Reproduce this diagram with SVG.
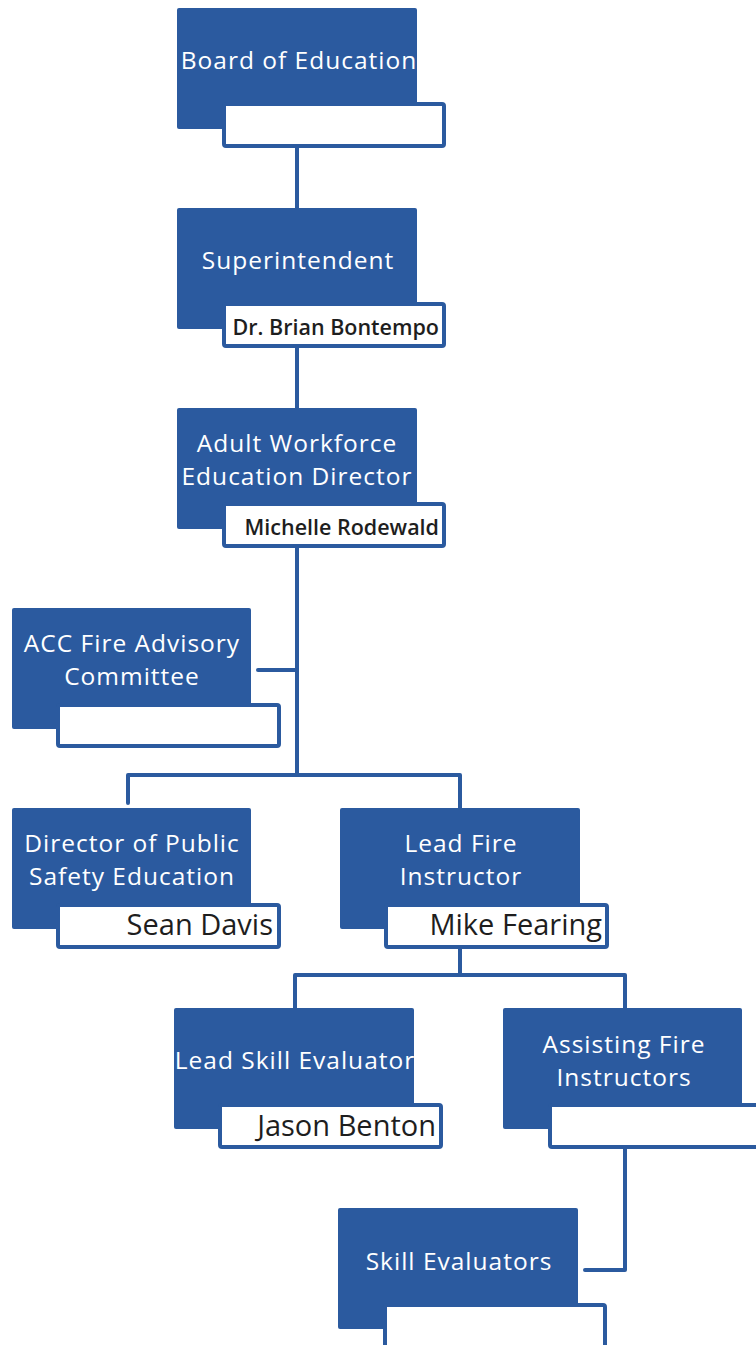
<svg xmlns="http://www.w3.org/2000/svg" width="756" height="1345" viewBox="0 0 756 1345">
  <style>
    .box { fill: #2B5A9F; }
    .tag { fill: #FFFFFF; stroke: #2B5A9F; stroke-width: 4; }
    .title { font-family: "Open Sans", "Noto Sans", sans-serif; font-size: 24.5px; letter-spacing: 1px; fill: #FFFFFF; text-anchor: middle; }
    .name { font-family: "Open Sans", "Noto Sans", sans-serif; fill: #1E1E1E; text-anchor: end; }
    .small { font-size: 21.5px; font-weight: 600; }
    .big { font-size: 29px; font-weight: 500; }
    .wire { fill: none; stroke: #2B5A9F; stroke-width: 4; stroke-linejoin: round; stroke-linecap: round; }
  </style>
  <rect width="756" height="1345" fill="#FFFFFF"/>

  <g id="connectors">
    <path class="wire" d="M297 148 V208"/>
    <path class="wire" d="M297 348 V408"/>
    <path class="wire" d="M297 548 V775"/>
    <path class="wire" d="M258 670 H297"/>
    <path class="wire" d="M128 803 V775 H460 V808"/>
    <path class="wire" d="M460 948 V975"/>
    <path class="wire" d="M295 1008 V975 H625 V1008"/>
    <path class="wire" d="M625 1148 V1270 H585"/>
  </g>

  <g id="board">
    <rect class="box" x="177" y="8" width="240" height="121" rx="2"/>
    <rect class="tag" x="224" y="104" width="220" height="42" rx="2"/>
    <text class="title" x="299" y="69">Board of Education</text>
  </g>

  <g id="superintendent">
    <rect class="box" x="177" y="208" width="240" height="121" rx="2"/>
    <rect class="tag" x="224" y="304" width="220" height="42" rx="2"/>
    <text class="title" x="298" y="269">Superintendent</text>
    <text class="name small" x="439" y="335">Dr. Brian Bontempo</text>
  </g>

  <g id="adult-workforce">
    <rect class="box" x="177" y="408" width="240" height="121" rx="2"/>
    <rect class="tag" x="224" y="504" width="220" height="42" rx="2"/>
    <text class="title" x="297" y="452">Adult Workforce</text>
    <text class="title" x="297" y="485">Education Director</text>
    <text class="name small" x="439" y="535">Michelle Rodewald</text>
  </g>

  <g id="advisory">
    <rect class="box" x="12" y="608" width="239" height="121" rx="2"/>
    <rect class="tag" x="58" y="705" width="221" height="41" rx="2"/>
    <text class="title" x="132" y="652">ACC Fire Advisory</text>
    <text class="title" x="132" y="685">Committee</text>
  </g>

  <g id="public-safety">
    <rect class="box" x="12" y="808" width="239" height="121" rx="2"/>
    <rect class="tag" x="58" y="905" width="221" height="42" rx="2"/>
    <text class="title" x="132" y="852">Director of Public</text>
    <text class="title" x="132" y="885">Safety Education</text>
    <text class="name big" x="273" y="935">Sean Davis</text>
  </g>

  <g id="lead-fire">
    <rect class="box" x="340" y="808" width="240" height="121" rx="2"/>
    <rect class="tag" x="386" y="905" width="221" height="42" rx="2"/>
    <text class="title" x="461" y="852">Lead Fire</text>
    <text class="title" x="461" y="885">Instructor</text>
    <text class="name big" x="602" y="935">Mike Fearing</text>
  </g>

  <g id="lead-skill">
    <rect class="box" x="174" y="1008" width="240" height="121" rx="2"/>
    <rect class="tag" x="220" y="1105" width="221" height="42" rx="2"/>
    <text class="title" x="295" y="1069">Lead Skill Evaluator</text>
    <text class="name big" x="436" y="1136">Jason Benton</text>
  </g>

  <g id="assisting">
    <rect class="box" x="503" y="1008" width="239" height="121" rx="2"/>
    <rect class="tag" x="550" y="1105" width="220" height="42" rx="2"/>
    <text class="title" x="624" y="1053">Assisting Fire</text>
    <text class="title" x="624" y="1086">Instructors</text>
  </g>

  <g id="skill-evaluators">
    <rect class="box" x="338" y="1208" width="240" height="121" rx="2"/>
    <rect class="tag" x="385" y="1305" width="220" height="44" rx="2"/>
    <text class="title" x="459" y="1270">Skill Evaluators</text>
  </g>
</svg>
